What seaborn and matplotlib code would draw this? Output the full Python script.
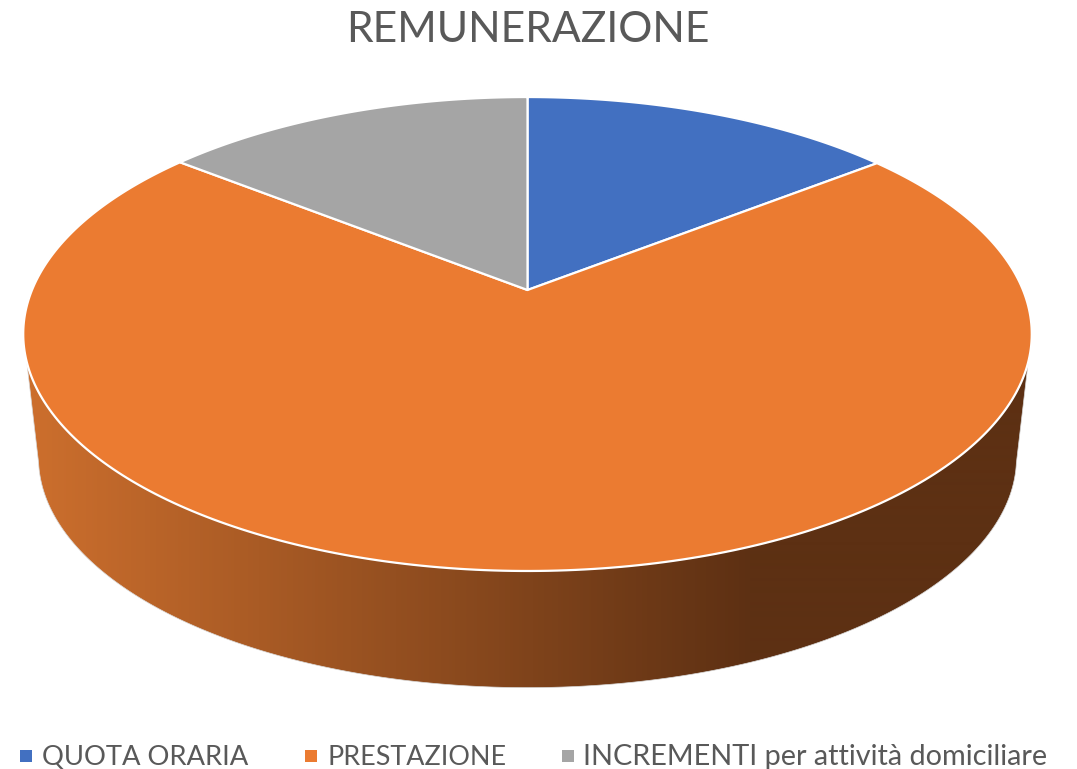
import numpy as np
import matplotlib
matplotlib.use('Agg')
import matplotlib.pyplot as plt
import seaborn as sns

title = 'REMUNERAZIONE'
categories = ['QUOTA ORARIA', 'PRESTAZIONE', 'INCREMENTI per attività domiciliare']
values = [14.4, 71.3, 14.3]
colors = ['#4270C1', '#EB7B31', '#A5A5A5']

sns.set_theme(style='white')
plt.rcParams['font.family'] = ['Lato', 'DejaVu Sans']

fig, ax = plt.subplots(figsize=(10.77, 7.69), dpi=100)
ax.set_position([0, 0, 1, 1])

# perspective of the pie disc, fitted to the picture in pixels
cx = 527.5
persp = 0.1857


def project(t, y0, a, b):
    u = np.sin(t)
    v = -np.cos(t)
    w = 1 - persp * v
    return cx + a * u / w, y0 + b * v / w


def top(t):
    return project(t, 290, 495.5, 228.8)


def bottom(t):
    return project(t, 415, 480.5, 222.0)


# side wall, shaded left to right like the 3D bevel
shades = np.array(sns.blend_palette(['#CB6E2D', '#5D3013'], 256))
px = np.arange(1077)
shade_idx = (np.clip((px - 38) / (750 - 38), 0, 1) * 255).astype(int)
im = ax.imshow(shades[shade_idx][None, :, :], extent=(0, 1077, 769, 0), aspect='auto',
               interpolation='bilinear', zorder=2)

top_x, top_y = top(np.radians(np.linspace(107.3, 252.7, 400)))
bot_x, bot_y = bottom(np.radians(np.linspace(258, 102, 400)))
wall = plt.Polygon(np.c_[np.r_[top_x, bot_x], np.r_[top_y, bot_y]], closed=True,
                   transform=ax.transData, facecolor='none', edgecolor='#D9D9D9', lw=0.5, zorder=3)
ax.add_patch(wall)
im.set_clip_path(wall)

# top face wedges, clockwise from twelve o'clock
edges = np.cumsum([0] + values) / sum(values) * 2 * np.pi
for start, end, color in zip(edges[:-1], edges[1:], colors):
    ts = np.linspace(start, end, 300)
    xs, ys = top(ts)
    ax.fill(np.r_[cx, xs], np.r_[290, ys], facecolor=color, edgecolor='white',
            lw=1.6, joinstyle='round', zorder=4)

# title and legend sit at fixed spots in the picture
ax.text(527.5, 30, title, fontsize=30.7, color='#595959', ha='center', va='center', zorder=5)

legend_box = [20, 305, 562]
legend_text = [42, 327, 583]
legend_size = [19.7, 19.4, 20.8]
for x_box, x_text, name, color, size in zip(legend_box, legend_text, categories, colors, legend_size):
    ax.add_patch(plt.Rectangle((x_box, 750), 12, 12, color=color, lw=0))
    ax.text(x_text, 755, name, fontsize=size, color='#595959', ha='left', va='center_baseline')

ax.set_xlim(0, 1077)
ax.set_ylim(769, 0)
ax.axis('off')

fig.savefig('out.png', dpi=100)
